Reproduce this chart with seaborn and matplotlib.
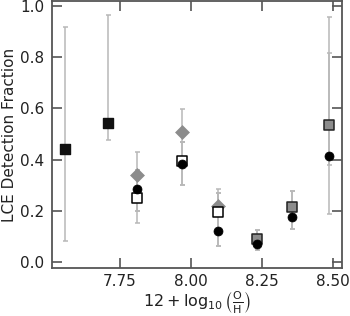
import numpy as np
import pandas as pd
import matplotlib
matplotlib.use("Agg")
import matplotlib.pyplot as plt
import seaborn as sns

# metallicity bins (12 + log O/H)
x_bins = [7.556, 7.708, 7.81, 7.968, 8.095, 8.232, 8.356, 8.486]

# black filled squares (lowest bins)
blk_x = [7.556, 7.708]
blk_y = [0.44, 0.545]
blk_lo = [0.083, 0.476]
blk_hi = [0.917, 0.965]

# grey diamonds
dia_x = [7.81, 7.968, 8.095]
dia_y = [0.34, 0.51, 0.22]
dia_lo = [0.20, 0.468, 0.20]
dia_hi = [0.429, 0.599, 0.284]

# open squares
osq_x = [7.81, 7.968, 8.095]
osq_y = [0.25, 0.395, 0.195]
osq_lo = [0.154, 0.303, 0.061]
osq_hi = [0.36, 0.468, 0.27]

# grey filled squares
gsq_x = [8.232, 8.356, 8.486]
gsq_y = [0.09, 0.215, 0.535]
gsq_lo = [0.048, 0.128, 0.187]
gsq_hi = [0.126, 0.277, 0.958]

# black circles
circ_x = [7.81, 7.968, 8.095, 8.232, 8.356, 8.486]
circ_y = [0.285, 0.385, 0.12, 0.07, 0.175, 0.415]
circ_lo = [0.2, 0.303, 0.061, 0.048, 0.128, 0.381]
circ_hi = [0.36, 0.468, 0.27, 0.126, 0.277, 0.816]

sns.set_style("ticks")
plt.rcParams['font.family'] = ['DejaVu Sans']
plt.rcParams['mathtext.fontset'] = 'dejavusans'

fig = plt.figure(figsize=(3.5, 3.16), dpi=100)
ax = fig.add_axes([0.149, 0.152, 0.828, 0.845])

ecol = '#b8b8b8'


def errs(x, y, lo, hi):
    y = np.array(y)
    ax.errorbar(x, y, yerr=[y - np.array(lo), np.array(hi) - y], fmt='none',
                ecolor=ecol, elinewidth=1.1, capsize=1.8, capthick=1.1, zorder=1)


errs(blk_x, blk_y, blk_lo, blk_hi)
errs(dia_x, dia_y, dia_lo, dia_hi)
errs(osq_x, osq_y, osq_lo, osq_hi)
errs(gsq_x, gsq_y, gsq_lo, gsq_hi)
errs(circ_x, circ_y, circ_lo, circ_hi)

sns.scatterplot(x=dia_x, y=dia_y, marker='D', s=50, color='#8c8c8c',
                edgecolor='#8c8c8c', linewidth=0.5, ax=ax, zorder=2)
sns.scatterplot(x=osq_x, y=osq_y, marker='s', s=58, color='white',
                edgecolor='black', linewidth=1.1, ax=ax, zorder=3)
sns.scatterplot(x=gsq_x, y=gsq_y, marker='s', s=58, color='#8c8c8c',
                edgecolor='#222222', linewidth=1.1, ax=ax, zorder=3)
sns.scatterplot(x=circ_x, y=circ_y, marker='o', s=42, color='black',
                edgecolor='black', linewidth=0.5, ax=ax, zorder=4)
sns.scatterplot(x=blk_x, y=blk_y, marker='s', s=62, color='#111111',
                edgecolor='#111111', linewidth=1.0, ax=ax, zorder=5)

ax.set_xlim(7.511, 8.532)
ax.set_ylim(-0.023, 1.02)
ax.set_xticks([7.75, 8.00, 8.25, 8.50])
ax.set_xticklabels(['7.75', '8.00', '8.25', '8.50'])
ax.set_yticks([0.0, 0.2, 0.4, 0.6, 0.8, 1.0])
ax.set_yticklabels(['0.0', '0.2', '0.4', '0.6', '0.8', '1.0'])

for sp in ax.spines.values():
    sp.set_visible(True)
    sp.set_color('#555555')
    sp.set_linewidth(1.3)
ax.tick_params(direction='in', length=7, width=1.2, color='#555555',
               top=True, right=True, labelsize=11, labelcolor='#222222')
ax.tick_params(axis='y', pad=5.5)
ax.tick_params(axis='x', pad=4)

ax.set_xlabel(r'$12 + \log_{10}\left(\frac{\rm O}{\rm H}\right)$', fontsize=11.5,
              color='#222222')
ax.set_ylabel('LCE Detection Fraction', fontsize=11, color='#222222', labelpad=2)
ax.xaxis.set_label_coords(0.5, -0.08)

fig.savefig('out.png', dpi=100)
